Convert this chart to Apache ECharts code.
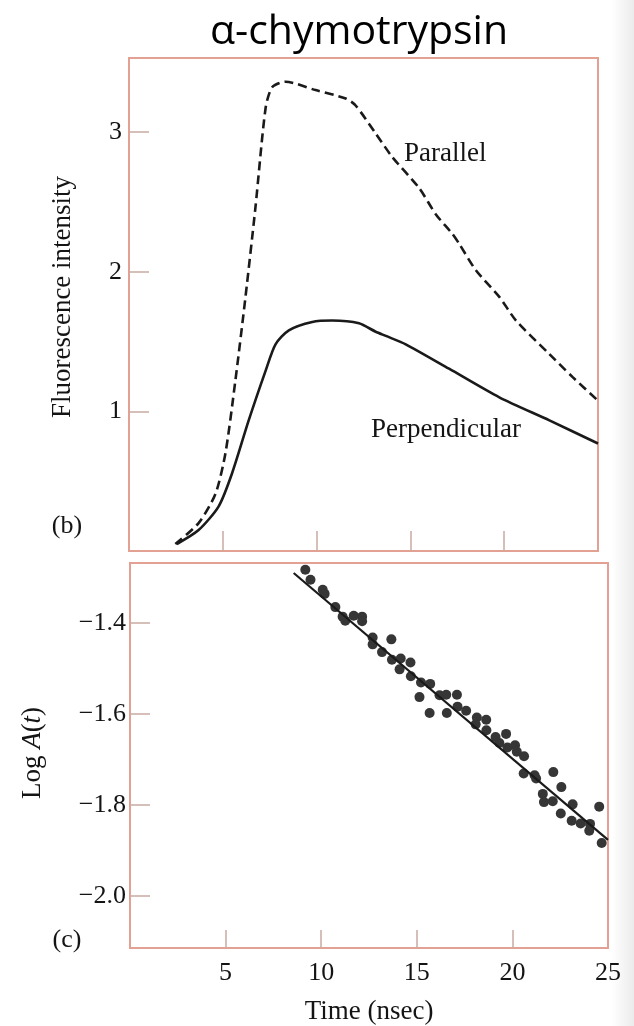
<!DOCTYPE html>
<html>
<head>
<meta charset="utf-8">
<script src="https://cdn.jsdelivr.net/npm/echarts@6/dist/echarts.min.js"></script>
<style>
html, body { margin: 0; padding: 0; background: #fff; }
#chart { width: 634px; height: 1026px; }
</style>
</head>
<body>
<div id="chart"></div>
<script>
// (b) fluorescence intensity
var parallelT = [2.47, 3.71, 4.61, 5.14, 5.67, 6.21, 6.74, 7.28, 7.63, 8.34, 9.95, 11.55, 12.08, 13.15, 14.04, 15.46, 16.36, 17.24, 17.6, 18.49, 19.74, 20.63, 22.41, 23.65, 24.97];
var parallelI = [0.05, 0.2, 0.41, 0.7, 1.22, 1.82, 2.46, 3.17, 3.32, 3.36, 3.3, 3.24, 3.19, 2.99, 2.82, 2.6, 2.41, 2.27, 2.2, 2.01, 1.82, 1.65, 1.41, 1.245, 1.08];
var perpT = [2.55, 3.71, 4.78, 5.49, 6.38, 7.28, 7.81, 8.52, 9.77, 10.83, 12.26, 13.15, 13.69, 14.75, 17.06, 19.74, 22.41, 25.0];
var perpI = [0.05, 0.15, 0.32, 0.555, 0.935, 1.29, 1.48, 1.58, 1.64, 1.65, 1.63, 1.57, 1.54, 1.48, 1.305, 1.1, 0.935, 0.77];

// (c) log anisotropy points and fitted line
var decayT = [9.17, 9.44, 10.08, 10.18, 10.74, 11.12, 11.26, 11.7, 12.14, 12.14, 12.69, 12.69, 13.67, 13.18, 13.7, 14.16, 14.67, 14.1, 14.69, 15.22, 15.7, 15.14, 16.19, 16.54, 17.1, 15.67, 16.57, 17.13, 17.58, 18.14, 18.63, 18.08, 18.64, 19.12, 19.67, 19.32, 19.74, 20.14, 20.23, 20.61, 20.59, 21.16, 21.24, 22.14, 22.56, 21.59, 21.65, 22.11, 23.15, 22.53, 24.54, 23.1, 23.57, 24.06, 24.02, 24.67];
var decayLogA = [-1.283, -1.305, -1.327, -1.336, -1.365, -1.386, -1.395, -1.384, -1.386, -1.396, -1.432, -1.447, -1.436, -1.464, -1.481, -1.478, -1.487, -1.502, -1.517, -1.531, -1.534, -1.563, -1.559, -1.558, -1.558, -1.598, -1.598, -1.584, -1.593, -1.608, -1.613, -1.623, -1.636, -1.651, -1.644, -1.664, -1.674, -1.669, -1.683, -1.693, -1.731, -1.735, -1.742, -1.728, -1.761, -1.776, -1.794, -1.792, -1.799, -1.819, -1.804, -1.835, -1.841, -1.842, -1.857, -1.884];
var fitT = [8.56, 25.0];
var fitLogA = [-1.29, -1.877];

var intensityTicks = [1, 2, 3];
var logTicks = [-2.0, -1.8, -1.6, -1.4];
var timeTicks = [5, 10, 15, 20];
var timeLabels = [5, 10, 15, 20, 25];

function zip(a, b) {
    var out = [];
    for (var i = 0; i < a.length; i++) {
        out.push([a[i], b[i]]);
    }
    return out;
}

var serif = '"Liberation Serif", "DejaVu Serif", serif';
var ink = '#141414';
var boxColor = '#e2a193';
var tickColor = '#c9aaa3';

var chart = echarts.init(document.getElementById('chart'));
var option = {
    backgroundColor: '#fff',
    animation: false,
    grid: [
        { left: 129, top: 58, width: 469, height: 493, show: true, borderColor: boxColor, borderWidth: 2 },
        { left: 130, top: 563, width: 478, height: 399, show: true, borderColor: boxColor, borderWidth: 2 }
    ],
    xAxis: [
        {
            gridIndex: 0, type: 'value', min: 0, max: 25,
            axisLine: { show: false },
            splitLine: { show: false },
            axisTick: { show: true, inside: true, length: 20, customValues: timeTicks, lineStyle: { color: tickColor, width: 1.5 } },
            axisLabel: { show: false }
        },
        {
            gridIndex: 1, type: 'value', min: 0, max: 25,
            axisLine: { show: false },
            splitLine: { show: false },
            axisTick: { show: true, inside: true, length: 18, customValues: timeTicks, lineStyle: { color: tickColor, width: 1.5 } },
            axisLabel: { customValues: timeLabels, margin: 12, color: ink, fontFamily: serif, fontSize: 26 },
            name: 'Time (nsec)', nameLocation: 'middle', nameGap: 50,
            nameTextStyle: { color: ink, fontFamily: serif, fontSize: 27 }
        }
    ],
    yAxis: [
        {
            gridIndex: 0, type: 'value', min: 0, max: 3.53,
            axisLine: { show: false },
            splitLine: { show: false },
            axisTick: { show: true, inside: true, length: 20, customValues: intensityTicks, lineStyle: { color: tickColor, width: 1.5 } },
            axisLabel: { customValues: intensityTicks, margin: 7, color: ink, fontFamily: serif, fontSize: 26 }
        },
        {
            gridIndex: 1, type: 'value', min: -2.115, max: -1.268,
            axisLine: { show: false },
            splitLine: { show: false },
            axisTick: { show: true, inside: true, length: 20, customValues: logTicks, lineStyle: { color: tickColor, width: 1.5 } },
            axisLabel: {
                customValues: logTicks, margin: 4, color: ink, fontFamily: serif, fontSize: 26,
                formatter: function (v) { return '\u2212' + Math.abs(v).toFixed(1); }
            }
        }
    ],
    series: [
        {
            name: 'Parallel', type: 'line', xAxisIndex: 0, yAxisIndex: 0,
            data: zip(parallelT, parallelI), smooth: 0.25, showSymbol: false,
            lineStyle: { color: '#1a1a1a', width: 2.6, type: [9, 5] }
        },
        {
            name: 'Perpendicular', type: 'line', xAxisIndex: 0, yAxisIndex: 0,
            data: zip(perpT, perpI), smooth: 0.25, showSymbol: false,
            lineStyle: { color: '#1a1a1a', width: 2.6 }
        },
        {
            name: 'Fit', type: 'line', xAxisIndex: 1, yAxisIndex: 1,
            data: zip(fitT, fitLogA), showSymbol: false,
            lineStyle: { color: '#1a1a1a', width: 2.2 }
        },
        {
            name: 'Log A(t)', type: 'scatter', xAxisIndex: 1, yAxisIndex: 1,
            data: zip(decayT, decayLogA), symbolSize: 10,
            itemStyle: { color: '#363636', opacity: 1 }
        }
    ],
    graphic: [
        {
            type: 'rect', left: 612, top: 0, z: -1,
            shape: { width: 22, height: 1026 },
            style: { fill: new echarts.graphic.LinearGradient(0, 0, 1, 0, [
                { offset: 0, color: '#ffffff' }, { offset: 1, color: '#ebebeb' }
            ]) }
        },
        {
            type: 'text', x: 359, y: 32,
            style: { text: 'α-chymotrypsin', font: '41px "Open Sans", "Noto Sans", sans-serif', fill: '#000', textAlign: 'center', textVerticalAlign: 'middle' }
        },
        {
            type: 'text', x: 63, y: 297, rotation: Math.PI / 2,
            style: { text: 'Fluorescence intensity', font: '27px ' + serif, fill: ink, textAlign: 'center', textVerticalAlign: 'middle' }
        },
        {
            type: 'text', x: 33, y: 753, rotation: Math.PI / 2,
            style: {
                text: '{n|Log }{i|A}{n|(}{i|t}{n|)}',
                textAlign: 'center', textVerticalAlign: 'middle',
                rich: {
                    n: { fontFamily: serif, fontSize: 27, fill: ink },
                    i: { fontFamily: serif, fontSize: 27, fontStyle: 'italic', fill: ink }
                }
            }
        },
        {
            type: 'text', x: 67, y: 526,
            style: { text: '(b)', font: '26px ' + serif, fill: ink, textAlign: 'center', textVerticalAlign: 'middle' }
        },
        {
            type: 'text', x: 67, y: 940,
            style: { text: '(c)', font: '26px ' + serif, fill: ink, textAlign: 'center', textVerticalAlign: 'middle' }
        },
        {
            type: 'text', x: 404, y: 154,
            style: { text: 'Parallel', font: '27px ' + serif, fill: ink, textAlign: 'left', textVerticalAlign: 'middle' }
        },
        {
            type: 'text', x: 371, y: 430,
            style: { text: 'Perpendicular', font: '27px ' + serif, fill: ink, textAlign: 'left', textVerticalAlign: 'middle' }
        }
    ]
};
chart.setOption(option);
window.onresize = chart.resize;
</script>
</body>
</html>
